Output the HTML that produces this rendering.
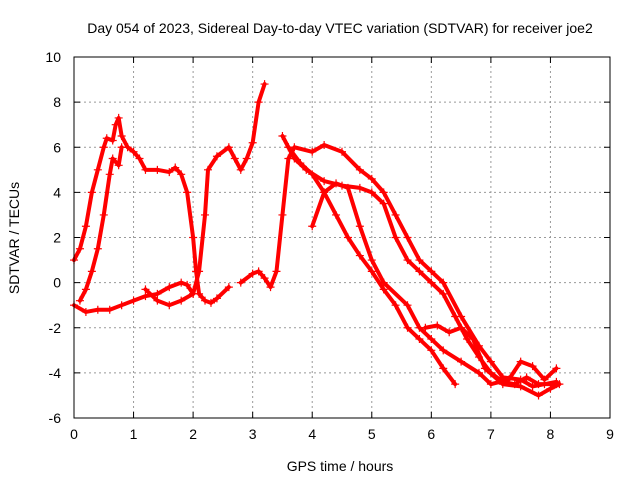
<!DOCTYPE html>
<html><head><meta charset="utf-8"><style>
body{margin:0;background:#fff}
svg{display:block;font-family:"Liberation Sans",sans-serif}
</style></head><body>
<svg id="chart" width="640" height="480">
<text x="340" y="33" font-size="14" text-anchor="middle">Day 054 of 2023, Sidereal Day-to-day VTEC variation (SDTVAR) for receiver joe2</text>
<text transform="translate(19,238) rotate(-90)" font-size="14" text-anchor="middle">SDTVAR / TECUs</text>
<text x="340" y="471" font-size="14" text-anchor="middle">GPS time / hours</text>
<g id="grid"></g><g id="ticks"></g><g id="marks"></g>
<rect x="74" y="57" width="536" height="361" fill="none" stroke="#000" stroke-width="1"/>
</svg>
<script>
const xTicks=[0,1,2,3,4,5,6,7,8,9];
const yTicks=[-6,-4,-2,0,2,4,6,8,10];
const trackA=[[0,1],[0.1,1.5],[0.2,2.5],[0.3,4],[0.4,5],[0.5,6],[0.55,6.4],[0.65,6.3],[0.7,7],[0.75,7.3],[0.8,6.5],[0.9,6],[1.0,5.8],[1.1,5.5],[1.2,5],[1.4,5],[1.6,4.9],[1.7,5.1],[1.8,4.8],[1.9,4],[2.0,2],[2.05,0.5],[2.1,-0.5],[2.2,-0.8],[2.3,-0.9],[2.4,-0.7],[2.6,-0.2]];
const trackB=[[0,-1],[0.2,-1.3],[0.4,-1.2],[0.6,-1.2],[0.8,-1],[1.0,-0.8],[1.2,-0.6],[1.4,-0.5],[1.6,-0.2],[1.8,0],[1.9,-0.1],[2.0,-0.5],[2.1,0.5],[2.2,3],[2.25,5],[2.4,5.6],[2.6,6],[2.7,5.5],[2.8,5],[2.9,5.5],[3.0,6.2],[3.1,8],[3.2,8.8]];
const trackC=[[0.1,-0.8],[0.2,-0.3],[0.3,0.5],[0.4,1.5],[0.5,3],[0.6,4.8],[0.65,5.5],[0.75,5.2],[0.8,6]];
const trackC2=[[1.2,-0.3],[1.4,-0.8],[1.6,-1],[1.8,-0.8],[2.0,-0.5]];
const trackD=[[2.8,0],[3.0,0.4],[3.1,0.5],[3.2,0.2],[3.3,-0.2],[3.4,0.5],[3.5,3],[3.6,5.5],[3.7,6],[4.0,5.8],[4.2,6.1],[4.5,5.8],[4.8,5],[5.0,4.6],[5.2,4],[5.4,3],[5.6,2],[5.8,1],[6,0.5],[6.2,0],[6.5,-1.5],[6.8,-2.8],[7.0,-3.5],[7.2,-4.2],[7.5,-4.3],[7.7,-4.6],[7.9,-4.5],[8.1,-4.4]];
const trackE=[[3.5,6.5],[3.7,5.5],[3.9,5],[4.2,4.5],[4.5,4.3],[4.8,4.2],[5.0,4],[5.2,3.5],[5.4,2],[5.6,1],[5.8,0.5],[6.0,0],[6.2,-0.5],[6.4,-1.5],[6.6,-2.5],[6.8,-3.3],[7.0,-4],[7.2,-4.4],[7.4,-4.5],[7.6,-4.2],[7.8,-4.5],[8.1,-4.5]];
const trackF=[[3.6,6],[3.8,5.3],[4.0,4.8],[4.2,4],[4.4,3],[4.6,2],[4.8,1.2],[5.0,0.5],[5.2,-0.3],[5.4,-1],[5.6,-2],[5.8,-2.5],[6.0,-3],[6.2,-3.8],[6.4,-4.5]];
const trackG=[[4.0,2.5],[4.2,4],[4.4,4.4],[4.6,4.2],[4.8,2.5],[5.0,1],[5.2,0],[5.6,-1],[5.8,-2],[6.0,-2.5],[6.2,-3],[6.5,-3.5],[6.8,-4],[7.0,-4.5],[7.3,-4.3],[7.5,-3.5],[7.7,-3.7],[7.9,-4.3],[8.1,-3.8]];
const trackH=[[5.9,-2],[6.1,-1.9],[6.3,-2.2],[6.5,-2],[6.7,-2.5],[6.9,-3.8],[7.2,-4.5],[7.5,-4.6],[7.8,-5],[8.0,-4.7],[8.15,-4.5]];
const tracks=[trackA,trackB,trackC,trackC2,trackD,trackE,trackF,trackG,trackH];
const X0=74,X1=610,Y0=418,Y1=57;
const sx=v=>X0+(v-0)/(9-0)*(X1-X0);
const sy=v=>Y0-(v+6)/16*(Y0-Y1);
const NS="http://www.w3.org/2000/svg";
const grid=document.getElementById('grid'),ticks=document.getElementById('ticks'),marks=document.getElementById('marks');
function mk(t,a,p){const e=document.createElementNS(NS,t);for(const k in a)e.setAttribute(k,a[k]);p.appendChild(e);return e;}
xTicks.forEach(v=>{
 if(v>0&&v<9){const g=mk('line',{x1:sx(v),x2:sx(v),y1:Y0,y2:Y1,stroke:'#999','stroke-dasharray':'2,3'},grid);
 
 }
 const tk=mk('path',{d:`M${sx(v)},${Y0}v-6M${sx(v)},${Y1}v6`,stroke:'#000'},ticks);
 
 
 const t=mk('text',{x:sx(v),y:Y0+21,'font-size':14,'text-anchor':'middle'},ticks);t.textContent=v;
 
 
});
yTicks.forEach(v=>{
 if(v>-6&&v<10){const g=mk('line',{x1:X0,x2:X1,y1:sy(v),y2:sy(v),stroke:'#999','stroke-dasharray':'2,3'},grid);
 
 }
 const tk=mk('path',{d:`M${X0},${sy(v)}h6M${X1},${sy(v)}h-6`,stroke:'#000'},ticks);
 
 
 const t=mk('text',{x:X0-13,y:sy(v)+5,'font-size':14,'text-anchor':'end'},ticks);t.textContent=v;
 
 
});
tracks.forEach((tr,i)=>{
 const pl=mk('polyline',{points:tr.map(p=>sx(p[0])+','+sy(p[1])).join(' '),fill:'none',stroke:'#f00','stroke-width':4,'stroke-linejoin':'round','stroke-linecap':'round'},marks);
 
 
 tr.forEach(p=>{
  const x=sx(p[0]),y=sy(p[1]);
  const m=mk('path',{d:`M${x-4},${y}H${x+4}M${x},${y-4}V${y+4}`,stroke:'#f00','stroke-width':1.2},marks);
  
  
 });
});
</script>
</body></html>
